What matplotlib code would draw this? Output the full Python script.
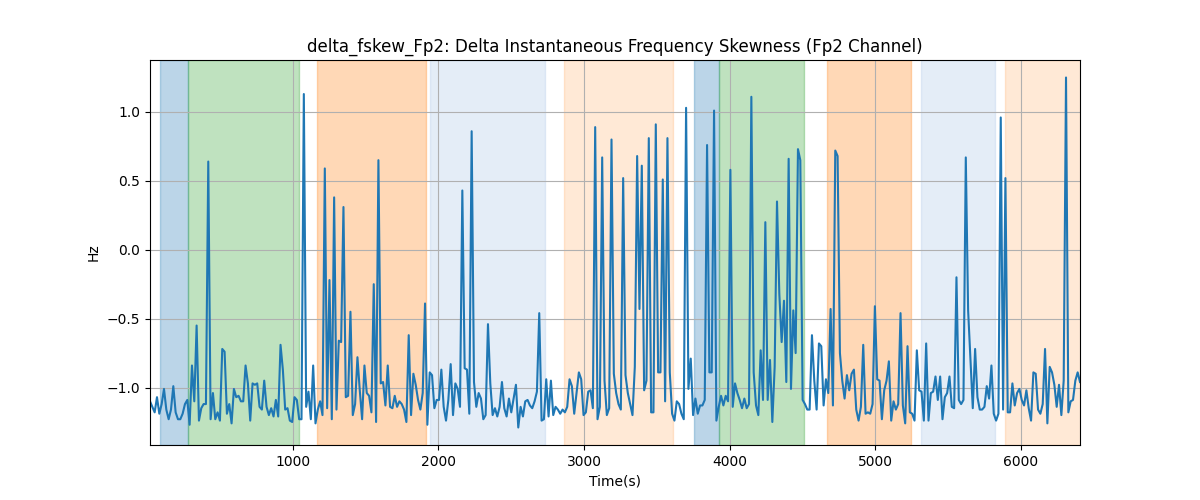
import numpy as np
import matplotlib
matplotlib.use("Agg")
import matplotlib.pyplot as plt

# sampling: one value every 16 s starting at 21 s
t_start = 21
t_step = 16

seg1 = [-1.10,-1.14,-1.18,-1.07,-1.19,-1.12,-1.01,-1.16,-1.23,-1.16,-0.99,-1.18,-1.23,-1.23,-1.19,-1.12,-1.09,-1.27,-0.84,-1.10,
        -0.55,-1.24,-1.15,-1.12,-1.12,0.64,-1.23,-1.04,-1.23,-1.18,-1.24,-0.72,-0.74,-1.19,-1.12,-1.26,-1.01,-1.07,-1.06,-1.10,
        -1.10,-0.84,-0.97,-1.24,-0.97,-0.98,-0.97,-1.14,-1.16,-0.95,-1.14,-1.20,-1.15,-1.21,-1.09,-1.21,-0.69]
seg2 = [-0.87,-1.16,-1.15,-1.24,-1.25,-1.07,-1.09,-1.23,-1.23,1.13,-1.14,-1.03,-1.23,-0.84,-1.26,-1.16,-1.10,-1.20,0.59,-1.15,
        -0.22,-1.23,0.38,-1.16,-0.66,-0.67,0.31,-1.07,-1.06,-0.45,-1.20,-1.12,-0.78,-1.02,-1.23,-0.84,-1.04,-1.06,-1.18,-0.25,
        -1.25,0.65,-0.97,-0.96,-1.13,-0.84,-1.14,-1.15,-1.06,-1.14,-1.10,-1.12,-1.16,-1.25,-0.62,-1.20,-0.90]
seg3 = [-0.98,-1.09,-1.16,-1.04,-0.39,-1.27,-0.89,-0.91,-1.15,-1.09,-1.09,-0.87,-1.14,-1.24,-1.09,-0.83,-1.20,-0.97,-1.01,-1.14,
        0.43,-0.86,-0.87,-1.19,0.86,-0.96,-1.14,-1.04,-1.08,-1.23,-1.20,-0.54,-0.97,-1.20,-1.15,-1.21,-1.14,-0.96,-1.15,-1.21,
        -1.08,-1.18,-1.08,-0.98,-1.29,-1.14,-1.21,-1.10,-1.09,-1.13,-1.15,-1.10,-1.03,-0.46,-1.24,-1.23,-0.94]
seg4 = [-1.21,-0.95,-1.20,-1.14,-1.16,-1.19,-1.16,-1.18,-1.14,-0.94,-0.99,-1.19,-1.04,-0.89,-0.94,-1.20,-1.18,-1.03,-1.02,-1.15,
        0.89,-1.23,-1.14,0.67,-0.95,-1.20,-1.15,0.80,-0.90,-1.04,-1.12,-1.16,0.52,-0.91,-1.04,-1.12,-1.20,-0.85,0.68,-0.43,
        0.61,-1.02,-0.95,0.81,-1.18,-1.18,0.91,-0.89,-0.89,0.51,-1.10,0.81,-0.89,-1.19,-1.24,-1.10,-1.12]
seg5 = [-1.19,-1.23,1.03,-1.01,-0.79,-1.20,-1.08,-1.19,-1.13,-1.13,-1.09,0.76,-0.89,-0.89,1.01,-1.24,-1.14,-1.06,-1.13,-1.06,
        -1.10,0.58,-1.14,-0.97,-1.04,-1.09,-1.15,-1.08,-1.15,-1.12,1.11,-0.89,-1.13,-1.20,-0.73,-1.09,0.20,-1.09,-0.80,-1.25,
        -0.85,0.35,-0.32,-0.67,-0.37,-0.96,0.66,-1.01,-0.44,-0.75,0.73,0.65,-1.09,-1.12,-1.16,-1.16,-0.62]
seg6 = [-0.95,-1.16,-0.68,-0.70,-1.13,-0.94,-1.04,-0.43,-1.13,0.72,0.68,-0.75,-0.95,-1.08,-0.91,-1.02,-0.90,-0.87,-1.16,-1.24,
        -1.14,-0.69,-1.19,-1.18,-1.19,-1.12,-0.41,-0.94,-0.95,-1.23,-1.02,-0.95,-0.81,-1.24,-1.10,-1.16,-1.12,-0.46,-1.13,-1.26,
        -0.70,-1.18,-1.19,-1.24,-0.73,-1.02,-1.03,-1.24,-0.68,-1.24,-1.04,-1.03,-0.92,-1.09,-0.92,-1.23,-1.07]
seg7 = [-1.04,-0.92,-1.14,-1.15,-0.20,-1.09,-1.12,-1.09,0.67,-0.44,-0.80,-1.15,-0.72,-1.07,-1.16,-1.16,-1.14,-0.99,-1.08,-0.84,
        -1.19,-1.24,-1.19,0.96,-1.16,0.52,-1.18,-1.18,-0.97,-1.13,-1.04,-1.01,-1.09,-1.13,-1.02,-1.15,-1.24,-0.89,-0.90,-1.16,
        -1.19,-1.12,-0.72,-1.26,-0.85,-0.89,-0.98,-1.14,-0.98,-1.20,-0.95,1.25,-1.18,-1.10,-1.09,-0.95,-0.89,-0.96]

values = np.array(seg1 + seg2 + seg3 + seg4 + seg5 + seg6 + seg7)
times = t_start + t_step * np.arange(len(values))

# shaded stage spans: (start, end, colour, alpha)
span_starts = [90, 282, 1167, 1943, 2860, 3757, 3924, 4670, 5311, 5887]
span_ends = [282, 1046, 1916, 2734, 3611, 3924, 4508, 5245, 5823, 6500]
span_colors = ["tab:blue", "tab:green", "tab:orange", "#aec7e8", "tab:orange",
               "tab:blue", "tab:green", "tab:orange", "#aec7e8", "tab:orange"]
span_alphas = [0.3, 0.3, 0.3, 0.32, 0.17, 0.3, 0.3, 0.3, 0.32, 0.17]

fig, ax = plt.subplots(figsize=(12, 5), dpi=100)
for s, e, c, a in zip(span_starts, span_ends, span_colors, span_alphas):
    ax.axvspan(s, e, color=c, alpha=a)
ax.plot(times, values, color="tab:blue", linewidth=1.5)
ax.set_xlim(times[0], times[-1])
ax.grid(True)
ax.set_title("delta_fskew_Fp2: Delta Instantaneous Frequency Skewness (Fp2 Channel)")
ax.set_xlabel("Time(s)")
ax.set_ylabel("Hz")
fig.savefig("out.png")
